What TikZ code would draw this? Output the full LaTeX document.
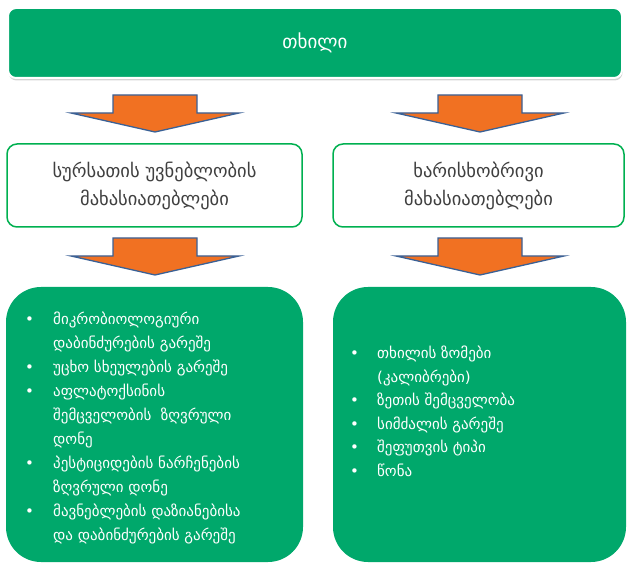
\documentclass[tikz,border=0pt]{standalone}
\usepackage{fontspec}
\setmainfont{DejaVu Sans}
\usetikzlibrary{shadows}
\definecolor{nutgreen}{RGB}{0,168,107}
\definecolor{framegreen}{RGB}{0,176,80}
\definecolor{arroworange}{RGB}{241,113,34}
\definecolor{arrowblue}{RGB}{58,97,150}
\tikzset{
  titlebox/.style={rectangle, rounded corners=8pt, fill=nutgreen, draw=white, line width=2pt,
    drop shadow={shadow xshift=0.6pt, shadow yshift=-2.5pt, opacity=0.35},
    text=white, font=\fontsize{19}{22}\selectfont},
  groupbox/.style={rectangle, rounded corners=10pt, draw=framegreen, line width=1.5pt, fill=white,
    text=black!75, align=center, font=\fontsize{18.5}{28}\selectfont},
  listbox/.style={rectangle, rounded corners=35pt, fill=nutgreen, inner sep=0pt},
  listtext/.style={anchor=north west, inner sep=0pt, align=left, text=white},
  fatarrow/.style={fill=arroworange, draw=arrowblue, line width=1.3pt}
}
\newcommand{\itm}[1]{\makebox[#1][l]{•}}
\newcommand{\cnt}[1]{\hspace*{#1}}
% block arrow: centre x, top y
\newcommand{\downblock}[2]{%
  \draw[fatarrow] (#1-42,#2) -- (#1+42,#2) -- (#1+42,#2+18) -- (#1+84,#2+18)
    -- (#1,#2+37) -- (#1-84,#2+18) -- (#1-42,#2+18) -- cycle;}

\begin{document}
\begin{tikzpicture}[x=1pt, y=-1pt]
  \useasboundingbox (0,0) rectangle (627,564);

  \node[titlebox, minimum width=614pt, minimum height=70pt] (nut) at (315,43) {თხილი};

  \downblock{155}{95}
  \downblock{480}{95}

  \node[groupbox, minimum width=295pt, minimum height=83pt] (safety) at (154.5,185.5)
    {სურსათის უვნებლობის\\მახასიათებლები};
  \node[groupbox, minimum width=291pt, minimum height=83pt] (quality) at (478.5,185.5)
    {ხარისხობრივი\\მახასიათებლები};

  \downblock{155}{238}
  \downblock{480}{238}

  \node[listbox, minimum width=297pt, minimum height=275pt] (safelist) at (154.5,424.5) {};
  \node[listbox, minimum width=293pt, minimum height=275pt] (qualist) at (479.5,424.5) {};

  \node[listtext, font=\fontsize{15}{24}\selectfont] (safeitems) at (25,307)
    {\strut\itm{28pt}მიკრობიოლოგიური\\
     \cnt{28pt}დაბინძურების გარეშე\\
     \itm{28pt}უცხო სხეულების გარეშე\\
     \itm{28pt}აფლატოქსინის\\
     \cnt{28pt}შემცველობის\ \ ზღვრული\\
     \cnt{28pt}დონე\\
     \itm{28pt}პესტიციდების ნარჩენების\\
     \cnt{28pt}ზღვრული დონე\\
     \itm{28pt}მავნებლების დაზიანებისა\\
     \cnt{28pt}და დაბინძურების გარეშე};
  \node[listtext, font=\fontsize{15}{23.5}\selectfont] (qualitems) at (350,342)
    {\strut\itm{27pt}თხილის ზომები\\
     \cnt{27pt}(კალიბრები)\\
     \itm{27pt}ზეთის შემცველობა\\
     \itm{27pt}სიმძალის გარეშე\\
     \itm{27pt}შეფუთვის ტიპი\\
     \itm{27pt}წონა};
\end{tikzpicture}
\end{document}
